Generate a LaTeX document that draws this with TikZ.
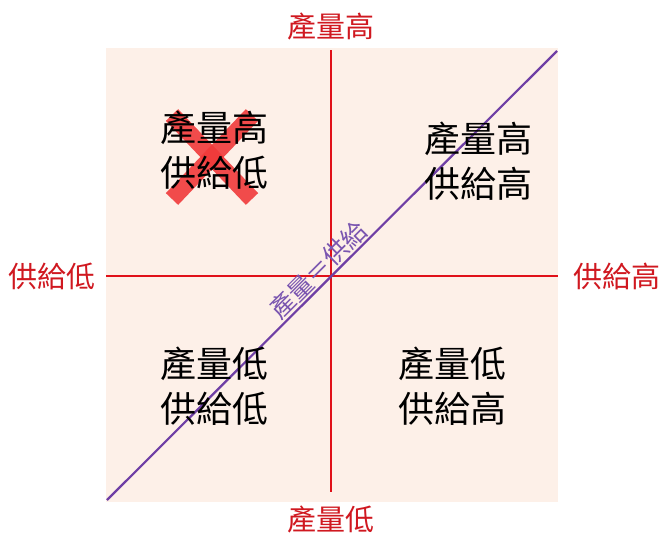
\documentclass[tikz,border=0pt]{standalone}
\usepackage{fontspec}
\setmainfont{Noto Sans CJK TC}
\begin{document}
\begin{tikzpicture}[x=1pt,y=-1pt,
  axis/.style={draw=axred,line width=2.8pt},
  diag/.style={draw=diagpurple,line width=2.2pt},
  edgelbl/.style={text=lblred,font=\fontsize{29}{32}\selectfont,inner sep=0pt},
  quad/.style={text=black,font=\fontsize{36}{45}\selectfont,align=center,inner sep=0pt},
  diaglbl/.style={text=diaglblc,font=\fontsize{25}{27}\selectfont,inner sep=0pt,rotate=45}]
\definecolor{bgpeach}{HTML}{FDF0E8}
\definecolor{axred}{HTML}{E01019}
\definecolor{lblred}{HTML}{D01820}
\definecolor{diagpurple}{HTML}{6F3FA5}
\definecolor{diaglblc}{HTML}{7A55B0}
\definecolor{xred}{HTML}{F03A3A}
\useasboundingbox (0,0) rectangle (660,533);
\fill[white] (0,0) rectangle (660,533);
\fill[bgpeach] (106,48) rectangle (558,502);
% red X
\coordinate (xa) at (172,115);
\coordinate (xb) at (252,199);
\coordinate (xc) at (252,115);
\coordinate (xd) at (172,199);
\draw[xred,opacity=0.9,line width=17pt] (xa) -- (xb);
\draw[xred,opacity=0.9,line width=17pt] (xc) -- (xd);
% axes
\coordinate (vt) at (331,50);
\coordinate (vb) at (331,492);
\coordinate (hl) at (106,276);
\coordinate (hr) at (558,276);
\draw[axis] (vt) -- (vb);
\draw[axis] (hl) -- (hr);
% diagonal
\coordinate (d1) at (107,500);
\coordinate (d2) at (557,51);
\draw[diag] (d1) -- (d2);
\node[diaglbl] (dl) at (318,270) {產量＝供給};
% edge labels
\node[edgelbl] (top) at (331,26) {產量高};
\node[edgelbl] (bot) at (331,519) {產量低};
\node[edgelbl] (lft) at (52,276) {供給低};
\node[edgelbl] (rgt) at (617,276) {供給高};
% quadrants
\node[quad] (q1) at (214,150) {產量高\\供給低};
\node[quad] (q2) at (478,161) {產量高\\供給高};
\node[quad] (q3) at (214,386) {產量低\\供給低};
\node[quad] (q4) at (452,386) {產量低\\供給高};
\end{tikzpicture}
\end{document}
